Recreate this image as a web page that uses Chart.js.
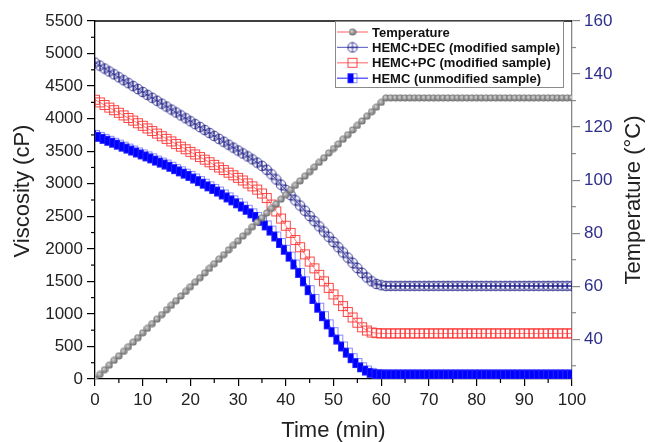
<!DOCTYPE html>
<html>
<head>
<meta charset="utf-8">
<script src="https://cdn.jsdelivr.net/npm/chart.js@4.4.1/dist/chart.umd.min.js"></script>
<style>
  html, body { margin: 0; padding: 0; background: #fff; }
  #wrap { width: 648px; height: 442px; position: relative; }
</style>
</head>
<body>
<div id="wrap"><canvas id="c" width="648" height="442"></canvas></div>
<script>
// time axis (min), one reading per minute
const timeMin = [
  0, 1, 2, 3, 4, 5, 6, 7, 8, 9,
  10, 11, 12, 13, 14, 15, 16, 17, 18, 19,
  20, 21, 22, 23, 24, 25, 26, 27, 28, 29,
  30, 31, 32, 33, 34, 35, 36, 37, 38, 39,
  40, 41, 42, 43, 44, 45, 46, 47, 48, 49,
  50, 51, 52, 53, 54, 55, 56, 57, 58, 59,
  60, 61, 62, 63, 64, 65, 66, 67, 68, 69,
  70, 71, 72, 73, 74, 75, 76, 77, 78, 79,
  80, 81, 82, 83, 84, 85, 86, 87, 88, 89,
  90, 91, 92, 93, 94, 95, 96, 97, 98, 99,
  100
];

// temperature (°C), right axis
const temperature = [
  25.0, 26.7, 28.5, 30.2, 32.0, 33.7, 35.4, 37.2, 38.9, 40.6,
  42.4, 44.1, 45.9, 47.6, 49.3, 51.1, 52.8, 54.5, 56.3, 58.0,
  59.8, 61.5, 63.2, 65.0, 66.7, 68.5, 70.2, 71.9, 73.7, 75.4,
  77.1, 78.9, 80.6, 82.4, 84.1, 85.8, 87.6, 89.3, 91.0, 92.8,
  94.5, 96.3, 98.0, 99.7, 101.5, 103.2, 104.9, 106.7, 108.4, 110.2,
  111.9, 113.6, 115.4, 117.1, 118.9, 120.6, 122.3, 124.1, 125.8, 127.5,
  129.3, 131, 131, 131, 131, 131, 131, 131, 131, 131,
  131, 131, 131, 131, 131, 131, 131, 131, 131, 131,
  131, 131, 131, 131, 131, 131, 131, 131, 131, 131,
  131, 131, 131, 131, 131, 131, 131, 131, 131, 131,
  131
];

// viscosity (cP), left axis
const hemcDec = [
  4860, 4815, 4770, 4725, 4680, 4635, 4590, 4545, 4500, 4455,
  4410, 4365, 4320, 4275, 4230, 4185, 4140, 4095, 4050, 4005,
  3960, 3915, 3870, 3825, 3780, 3735, 3690, 3645, 3600, 3555,
  3510, 3465, 3420, 3375, 3325, 3275, 3215, 3145, 3065, 2985,
  2905, 2825, 2745, 2665, 2585, 2505, 2425, 2345, 2265, 2185,
  2105, 2025, 1945, 1865, 1785, 1705, 1630, 1560, 1500, 1460,
  1440, 1430, 1430, 1430, 1430, 1430, 1430, 1430, 1430, 1430,
  1430, 1430, 1430, 1430, 1430, 1430, 1430, 1430, 1430, 1430,
  1430, 1430, 1430, 1430, 1430, 1430, 1430, 1430, 1430, 1430,
  1430, 1430, 1430, 1430, 1430, 1430, 1430, 1430, 1430, 1430,
  1430
];

const hemcPc = [
  4290, 4250, 4210, 4170, 4130, 4090, 4050, 4010, 3970, 3930,
  3890, 3850, 3810, 3770, 3730, 3690, 3650, 3610, 3570, 3530,
  3490, 3450, 3410, 3370, 3330, 3290, 3250, 3210, 3170, 3130,
  3090, 3050, 3005, 2960, 2910, 2850, 2780, 2680, 2575, 2465,
  2355, 2245, 2135, 2025, 1915, 1805, 1700, 1600, 1500, 1400,
  1300, 1210, 1120, 1030, 945, 865, 795, 745, 715, 705,
  700, 700, 700, 700, 700, 700, 700, 700, 700, 700,
  700, 700, 700, 700, 700, 700, 700, 700, 700, 700,
  700, 700, 700, 700, 700, 700, 700, 700, 700, 700,
  700, 700, 700, 700, 700, 700, 700, 700, 700, 700,
  700
];

const hemc = [
  3750, 3720, 3690, 3660, 3630, 3600, 3570, 3540, 3510, 3480,
  3450, 3420, 3390, 3355, 3325, 3295, 3260, 3225, 3190, 3155,
  3120, 3080, 3040, 3000, 2960, 2920, 2880, 2835, 2790, 2745,
  2700, 2650, 2600, 2545, 2490, 2430, 2360, 2280, 2190, 2090,
  1985, 1880, 1760, 1630, 1500, 1365, 1230, 1095, 965, 840,
  720, 605, 500, 405, 320, 245, 180, 130, 95, 78,
  72, 70, 70, 70, 70, 70, 70, 70, 70, 70,
  70, 70, 70, 70, 70, 70, 70, 70, 70, 70,
  70, 70, 70, 70, 70, 70, 70, 70, 70, 70,
  70, 70, 70, 70, 70, 70, 70, 70, 70, 70,
  70
];

const timeTicks = [0, 10, 20, 30, 40, 50, 60, 70, 80, 90, 100];
const viscTicks = [0, 500, 1000, 1500, 2000, 2500, 3000, 3500, 4000, 4500, 5000, 5500];
const tempTicks = [40, 60, 80, 100, 120, 140, 160];

const FONT = '"Liberation Sans", Arial, sans-serif';

// 마커 이미지 (Origin 스타일 흉내)
function makeMarker(size, draw) {
  const c = document.createElement('canvas');
  c.width = size; c.height = size;
  draw(c.getContext('2d'), size / 2);
  return c;
}
const tempDot = makeMarker(8, (g, m) => {
  const grd = g.createRadialGradient(m - 1, m - 1, 0.4, m, m, 3.8);
  grd.addColorStop(0, '#d0d0d0');
  grd.addColorStop(1, '#606060');
  g.fillStyle = grd;
  g.beginPath(); g.arc(m, m, 3.6, 0, Math.PI * 2); g.fill();
});
const decMark = makeMarker(12, (g, m) => {
  g.strokeStyle = 'rgba(30,30,135,0.85)'; g.lineWidth = 1;
  g.beginPath(); g.arc(m, m, 4.8, 0, Math.PI * 2); g.stroke();
  g.beginPath();
  g.moveTo(m, m - 4.8); g.lineTo(m, m + 4.8);
  g.moveTo(m - 4.8, m); g.lineTo(m + 4.8, m);
  g.stroke();
});
const pcMark = makeMarker(12, (g) => {
  g.strokeStyle = 'rgba(255,50,50,0.9)'; g.lineWidth = 1;
  g.strokeRect(1.5, 1.5, 9, 9);
});
const hemcMark = makeMarker(12, (g) => {
  g.fillStyle = '#0000ff'; g.fillRect(1, 1, 6, 10);
  g.strokeStyle = 'rgba(60,60,255,0.6)'; g.lineWidth = 1;
  g.strokeRect(1.5, 1.5, 9, 9);
});

const pts = arr => timeMin.map((t, i) => ({ x: t, y: arr[i] }));

// minor ticks, axis titles, top frame, legend
const framePlugin = {
  id: 'frame',
  afterDraw(chart) {
    const { ctx, chartArea: a, scales } = chart;
    ctx.save();
    ctx.strokeStyle = '#000'; ctx.lineWidth = 1.3;
    ctx.beginPath(); ctx.moveTo(a.left, a.top); ctx.lineTo(a.right, a.top); ctx.stroke();

    ctx.lineWidth = 1.2;
    for (let i = 0; i < timeTicks.length - 1; i++) {
      const x = scales.x.getPixelForValue((timeTicks[i] + timeTicks[i + 1]) / 2);
      ctx.beginPath(); ctx.moveTo(x, a.bottom); ctx.lineTo(x, a.bottom + 4); ctx.stroke();
    }
    for (let i = 0; i < viscTicks.length - 1; i++) {
      const y = scales.y.getPixelForValue((viscTicks[i] + viscTicks[i + 1]) / 2);
      ctx.beginPath(); ctx.moveTo(a.left, y); ctx.lineTo(a.left - 4, y); ctx.stroke();
    }
    ctx.strokeStyle = '#888';
    [30, 50, 70, 90, 110, 130, 150].forEach(v => {
      const y = scales.y2.getPixelForValue(v);
      ctx.beginPath(); ctx.moveTo(a.right, y); ctx.lineTo(a.right + 4, y); ctx.stroke();
    });

    // axis titles
    ctx.fillStyle = '#222';
    ctx.font = '22px ' + FONT;
    ctx.textAlign = 'center'; ctx.textBaseline = 'middle';
    ctx.fillText('Time (min)', (a.left + a.right) / 2, 431);
    ctx.save(); ctx.translate(23, 191); ctx.rotate(-Math.PI / 2);
    ctx.fillText('Viscosity (cP)', 0, 0); ctx.restore();
    ctx.save(); ctx.translate(634, 200); ctx.rotate(-Math.PI / 2);
    ctx.fillText('Temperature (°C)', 0, 0); ctx.restore();

    // legend box
    const bx = 335, by = 21, bw = 228, bh = 66;
    ctx.fillStyle = '#fff'; ctx.fillRect(bx, by, bw, bh);
    ctx.strokeStyle = '#8a8a8a'; ctx.lineWidth = 1;
    ctx.strokeRect(bx + 0.5, by + 0.5, bw, bh);
    ctx.font = 'bold 13px ' + FONT;
    ctx.textAlign = 'left';
    chart.data.datasets.forEach((ds, i) => {
      const y = 32 + i * 15.4;
      ctx.strokeStyle = ds.borderColor; ctx.lineWidth = 1.2;
      ctx.beginPath(); ctx.moveTo(bx + 2, y); ctx.lineTo(bx + 33, y); ctx.stroke();
      const img = ds.pointStyle;
      ctx.drawImage(img, bx + 17.5 - img.width / 2, y - img.height / 2);
      ctx.fillStyle = '#111';
      ctx.fillText(ds.label, bx + 37, y + 1);
    });
    ctx.restore();
  }
};

const plainTick = v => String(v);

new Chart(document.getElementById('c'), {
  type: 'line',
  data: {
    datasets: [
      { label: 'Temperature', data: pts(temperature), yAxisID: 'y2',
        borderColor: '#ff7a7a', borderWidth: 1, pointStyle: tempDot, pointRadius: 4 },
      { label: 'HEMC+DEC (modified sample)', data: pts(hemcDec), yAxisID: 'y',
        borderColor: '#7070c8', borderWidth: 1, pointStyle: decMark, pointRadius: 5 },
      { label: 'HEMC+PC (modified sample)', data: pts(hemcPc), yAxisID: 'y',
        borderColor: '#ff7a7a', borderWidth: 1, pointStyle: pcMark, pointRadius: 5 },
      { label: 'HEMC (unmodified sample)', data: pts(hemc), yAxisID: 'y',
        borderColor: '#3a3aff', borderWidth: 1, pointStyle: hemcMark, pointRadius: 5 },
    ],
  },
  options: {
    responsive: false,
    animation: false,
    layout: { padding: { top: 21, left: 0, right: 0, bottom: 0 } },
    plugins: { legend: { display: false }, tooltip: { enabled: false } },
    scales: {
      x: {
        type: 'linear', min: 0, max: 100, position: 'bottom',
        afterBuildTicks: s => { s.ticks = timeTicks.map(v => ({ value: v })); },
        afterFit: s => { s.height = 63; },
        grid: { drawOnChartArea: false, drawTicks: true, tickLength: 7, color: '#000', lineWidth: 1.2 },
        border: { color: '#000', width: 1.3 },
        ticks: { font: { size: 17, family: FONT }, color: '#222', padding: 4, maxRotation: 0, autoSkip: false, callback: plainTick },
      },
      y: {
        type: 'linear', min: 0, max: 5500, position: 'left',
        afterBuildTicks: s => { s.ticks = viscTicks.map(v => ({ value: v })); },
        afterFit: s => { s.width = 95; },
        grid: { drawOnChartArea: false, drawTicks: true, tickLength: 8, color: '#000', lineWidth: 1.2 },
        border: { color: '#000', width: 1.3 },
        ticks: { font: { size: 17, family: FONT }, color: '#222', padding: 4, autoSkip: false, callback: plainTick },
      },
      y2: {
        type: 'linear', min: 25, max: 160, position: 'right',
        afterBuildTicks: s => { s.ticks = tempTicks.map(v => ({ value: v })); },
        afterFit: s => { s.width = 76; },
        grid: { drawOnChartArea: false, drawTicks: true, tickLength: 8, color: '#888', lineWidth: 1.2 },
        border: { color: '#888', width: 1.3 },
        ticks: { font: { size: 17, family: FONT }, color: '#2e2e8c', padding: 4, autoSkip: false, callback: plainTick },
      },
    },
  },
  plugins: [framePlugin],
});
</script>
</body>
</html>
